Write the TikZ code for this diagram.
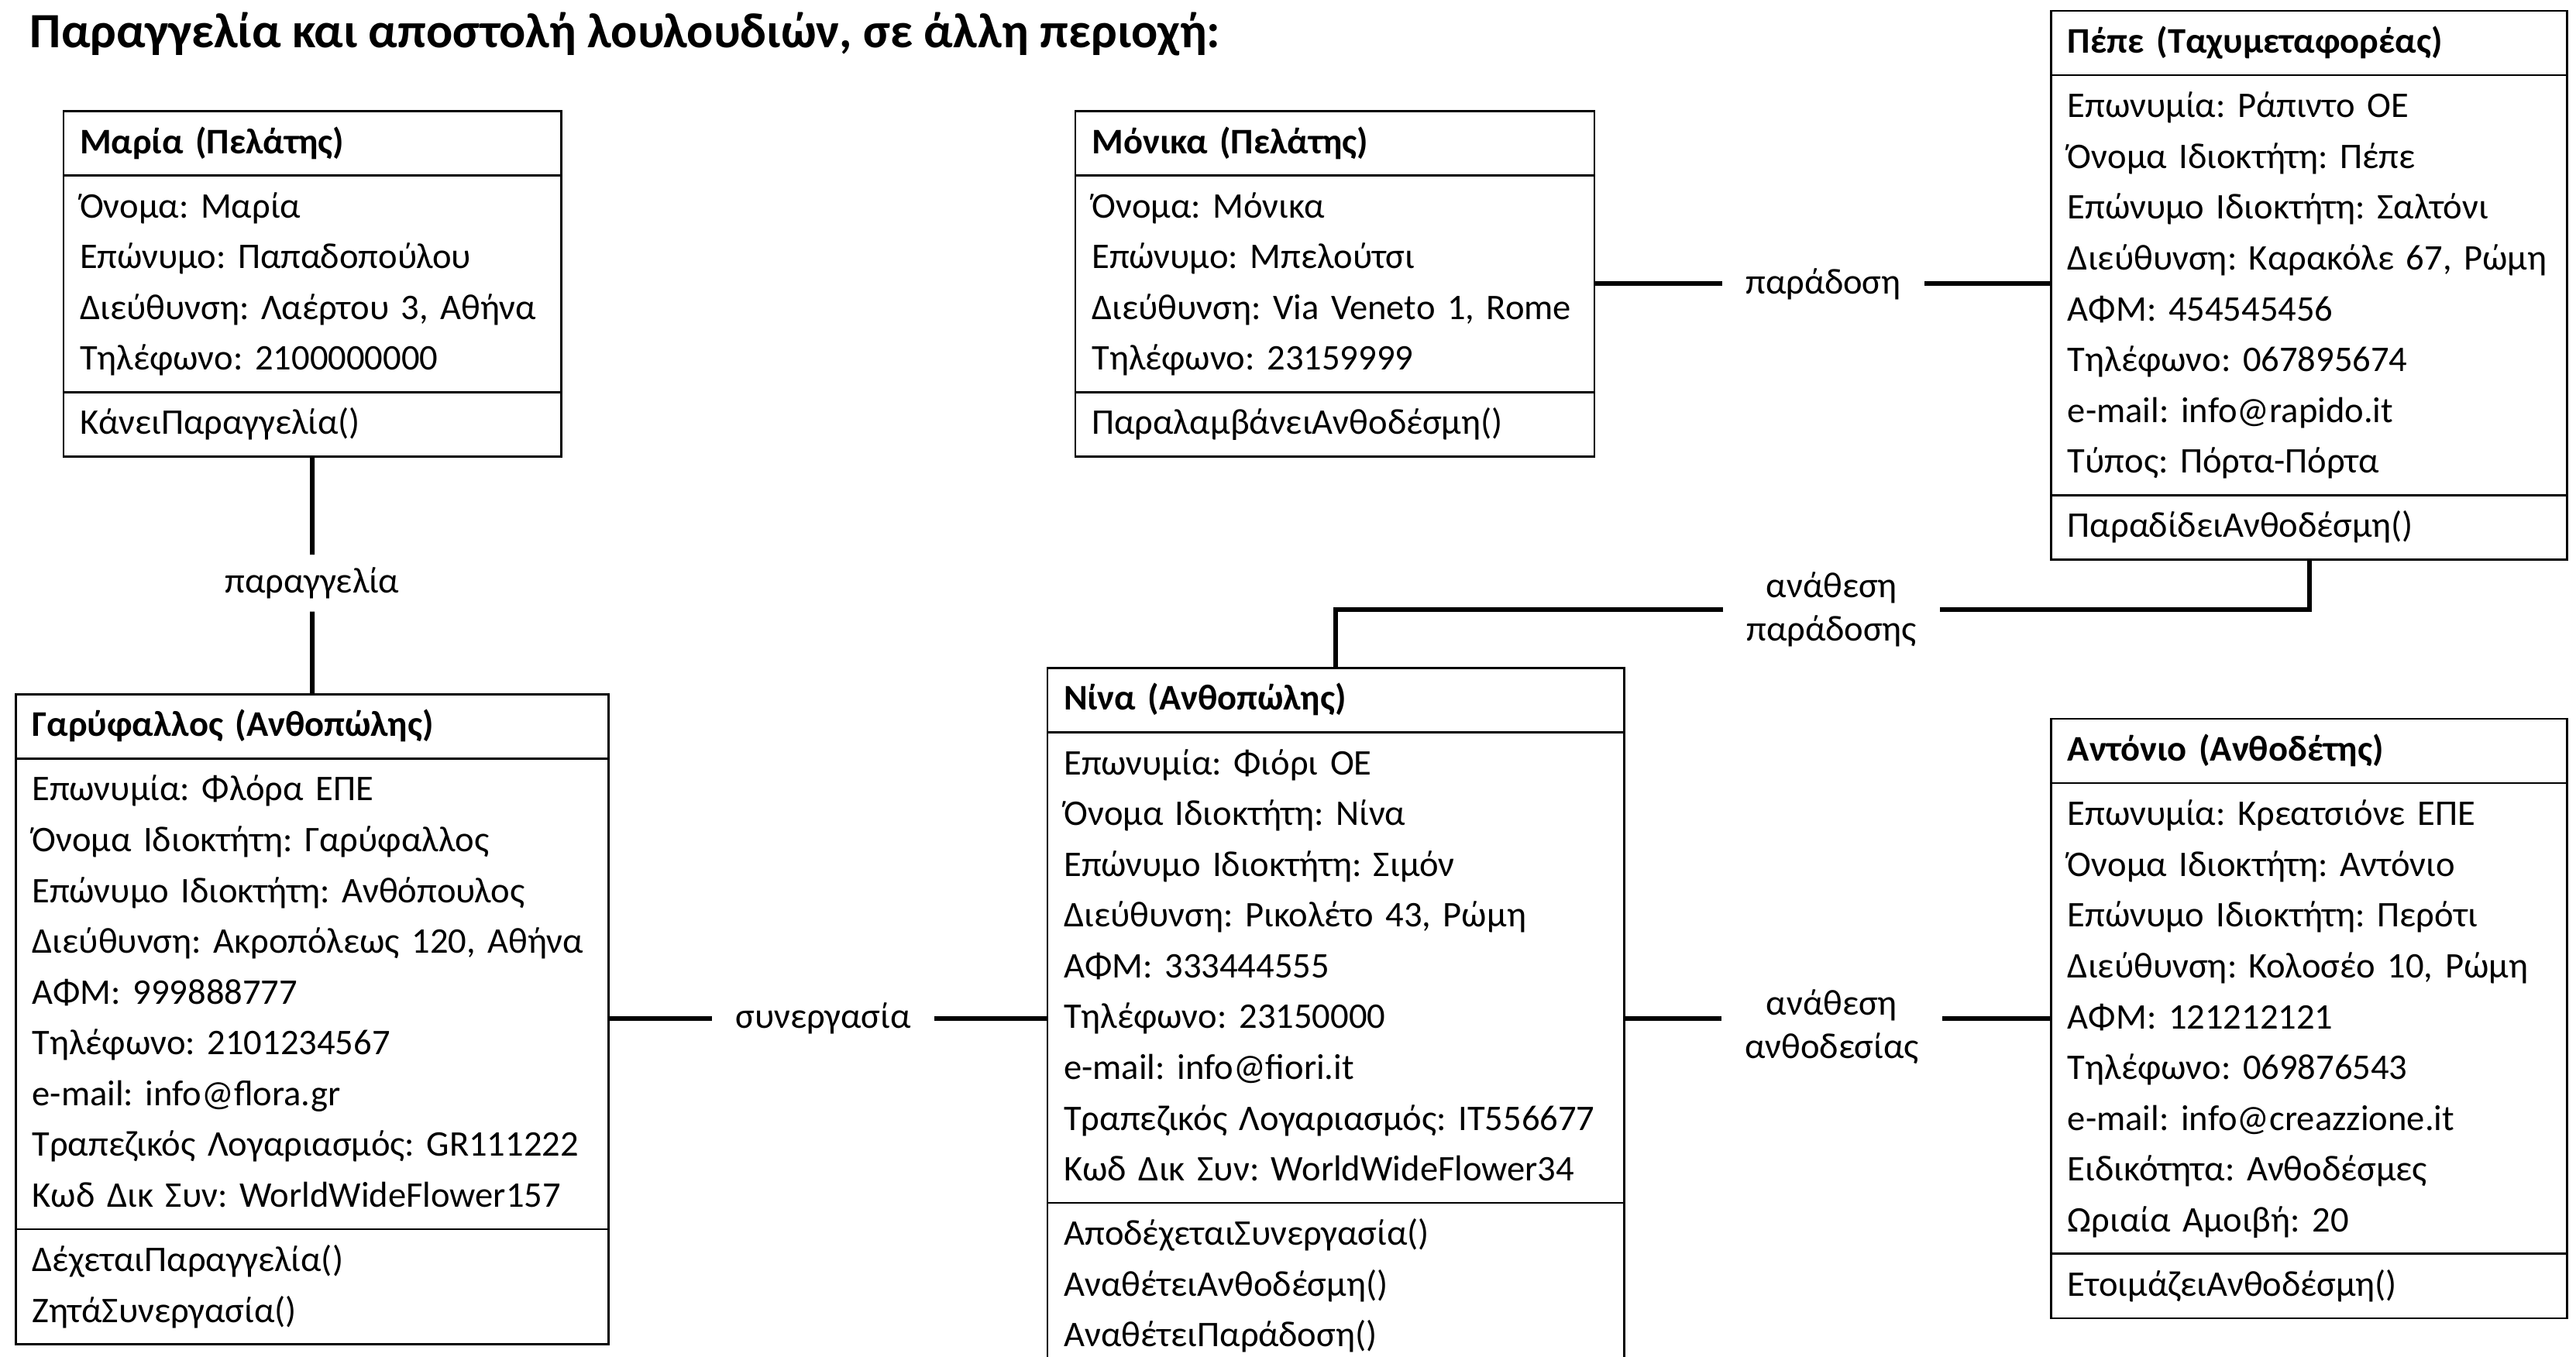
\documentclass[tikz,border=0pt]{standalone}
\usepackage{fontspec}
\setmainfont{Carlito}
\frenchspacing
\usetikzlibrary{shapes.multipart}

\tikzset{
  umlclass/.style={draw, line width=0.7pt, rectangle split, rectangle split parts=3,
    anchor=north west, align=left, inner xsep=0.2cm, inner ysep=2pt,
    font=\fontsize{12.5}{17.6}\selectfont},
  assoc/.style={line width=1.6pt},
  assoclabel/.style={inner xsep=0.28cm, inner ysep=0.15cm, align=center,
    font=\fontsize{12.5}{15}\selectfont},
}

\begin{document}
\begin{tikzpicture}[x=0.02cm,y=-0.02cm]
  \useasboundingbox (0,0) rectangle (1568,826);
  \node[anchor=base west,inner sep=0pt,font=\fontsize{17.1}{20}\selectfont\bfseries] (title) at (18,29)
    {Παραγγελία και αποστολή λουλουδιών, σε άλλη περιοχή:};

  % customers
  \node[umlclass,text width=5.66cm] (maria) at (38,67)
    {\strut\textbf{Μαρία (Πελάτης)}
     \nodepart{two}\strut Όνομα: Μαρία\\
       \strut Επώνυμο: Παπαδοπούλου\\
       \strut Διεύθυνση: Λαέρτου 3, Αθήνα\\
       \strut Τηλέφωνο: 2100000000
     \nodepart{three}\strut ΚάνειΠαραγγελία()};
  \node[umlclass,text width=5.92cm] (monika) at (654,67)
    {\strut\textbf{Μόνικα (Πελάτης)}
     \nodepart{two}\strut Όνομα: Μόνικα\\
       \strut Επώνυμο: Μπελούτσι\\
       \strut Διεύθυνση: Via Veneto 1, Rome\\
       \strut Τηλέφωνο: 23159999
     \nodepart{three}\strut ΠαραλαμβάνειΑνθοδέσμη()};

  % courier
  \node[umlclass,text width=5.88cm] (pepe) at (1248,6)
    {\strut\textbf{Πέπε (Ταχυμεταφορέας)}
     \nodepart{two}\strut Επωνυμία: Ράπιντο ΟΕ\\
       \strut Όνομα Ιδιοκτήτη: Πέπε\\
       \strut Επώνυμο Ιδιοκτήτη: Σαλτόνι\\
       \strut Διεύθυνση: Καρακόλε 67, Ρώμη\\
       \strut ΑΦΜ: 454545456\\
       \strut Τηλέφωνο: 067895674\\
       \strut e-mail: info@rapido.it\\
       \strut Τύπος: Πόρτα-Πόρτα
     \nodepart{three}\strut ΠαραδίδειΑνθοδέσμη()};

  % florists
  \node[umlclass,text width=6.82cm] (gary) at (9,422)
    {\strut\textbf{Γαρύφαλλος (Ανθοπώλης)}
     \nodepart{two}\strut Επωνυμία: Φλόρα ΕΠΕ\\
       \strut Όνομα Ιδιοκτήτη: Γαρύφαλλος\\
       \strut Επώνυμο Ιδιοκτήτη: Ανθόπουλος\\
       \strut Διεύθυνση: Ακροπόλεως 120, Αθήνα\\
       \strut ΑΦΜ: 999888777\\
       \strut Τηλέφωνο: 2101234567\\
       \strut e-mail: info@flora.gr\\
       \strut Τραπεζικός Λογαριασμός: GR111222\\
       \strut Κωδ Δικ Συν: WorldWideFlower157
     \nodepart{three}\strut ΔέχεταιΠαραγγελία()\\
       \strut ΖητάΣυνεργασία()};
  \node[umlclass,text width=6.62cm] (nina) at (637,406)
    {\strut\textbf{Νίνα (Ανθοπώλης)}
     \nodepart{two}\strut Επωνυμία: Φιόρι ΟΕ\\
       \strut Όνομα Ιδιοκτήτη: Νίνα\\
       \strut Επώνυμο Ιδιοκτήτη: Σιμόν\\
       \strut Διεύθυνση: Ρικολέτο 43, Ρώμη\\
       \strut ΑΦΜ: 333444555\\
       \strut Τηλέφωνο: 23150000\\
       \strut e-mail: info@fiori.it\\
       \strut Τραπεζικός Λογαριασμός: IT556677\\
       \strut Κωδ Δικ Συν: WorldWideFlower34
     \nodepart{three}\strut ΑποδέχεταιΣυνεργασία()\\
       \strut ΑναθέτειΑνθοδέσμη()\\
       \strut ΑναθέτειΠαράδοση()};

  % florist designer
  \node[umlclass,text width=5.88cm] (antonio) at (1248,437)
    {\strut\textbf{Αντόνιο (Ανθοδέτης)}
     \nodepart{two}\strut Επωνυμία: Κρεατσιόνε ΕΠΕ\\
       \strut Όνομα Ιδιοκτήτη: Αντόνιο\\
       \strut Επώνυμο Ιδιοκτήτη: Περότι\\
       \strut Διεύθυνση: Κολοσέο 10, Ρώμη\\
       \strut ΑΦΜ: 121212121\\
       \strut Τηλέφωνο: 069876543\\
       \strut e-mail: info@creazzione.it\\
       \strut Ειδικότητα: Ανθοδέσμες\\
       \strut Ωριαία Αμοιβή: 20
     \nodepart{three}\strut ΕτοιμάζειΑνθοδέσμη()};

  % association labels
  \node[assoclabel] (order) at (maria.south |- 0,355) {παραγγελία};
  \node[assoclabel] (deliver) at (1110,0 |- monika.east) {παράδοση};
  \node[assoclabel] (delivassign) at (1115,371) {ανάθεση\\παράδοσης};
  \node[assoclabel] (coop) at (501,0 |- nina.west) {συνεργασία};
  \node[assoclabel] (bouqassign) at (1115,625) {ανάθεση\\ανθοδεσίας};

  % associations
  \draw[assoc] (maria.south) -- (order) -- (gary.north);
  \draw[assoc] (monika) -- (deliver) -- (deliver -| pepe.west);
  \draw[assoc] (pepe.south) |- (delivassign);
  \draw[assoc] (delivassign) -| (nina.north);
  \draw[assoc] (gary.east |- coop) -- (coop) -- (nina);
  \draw[assoc] (nina.east) -- (nina.east -| bouqassign.west);
  \draw[assoc] (bouqassign.east |- antonio.west) -- (antonio.west);
\end{tikzpicture}
\end{document}
